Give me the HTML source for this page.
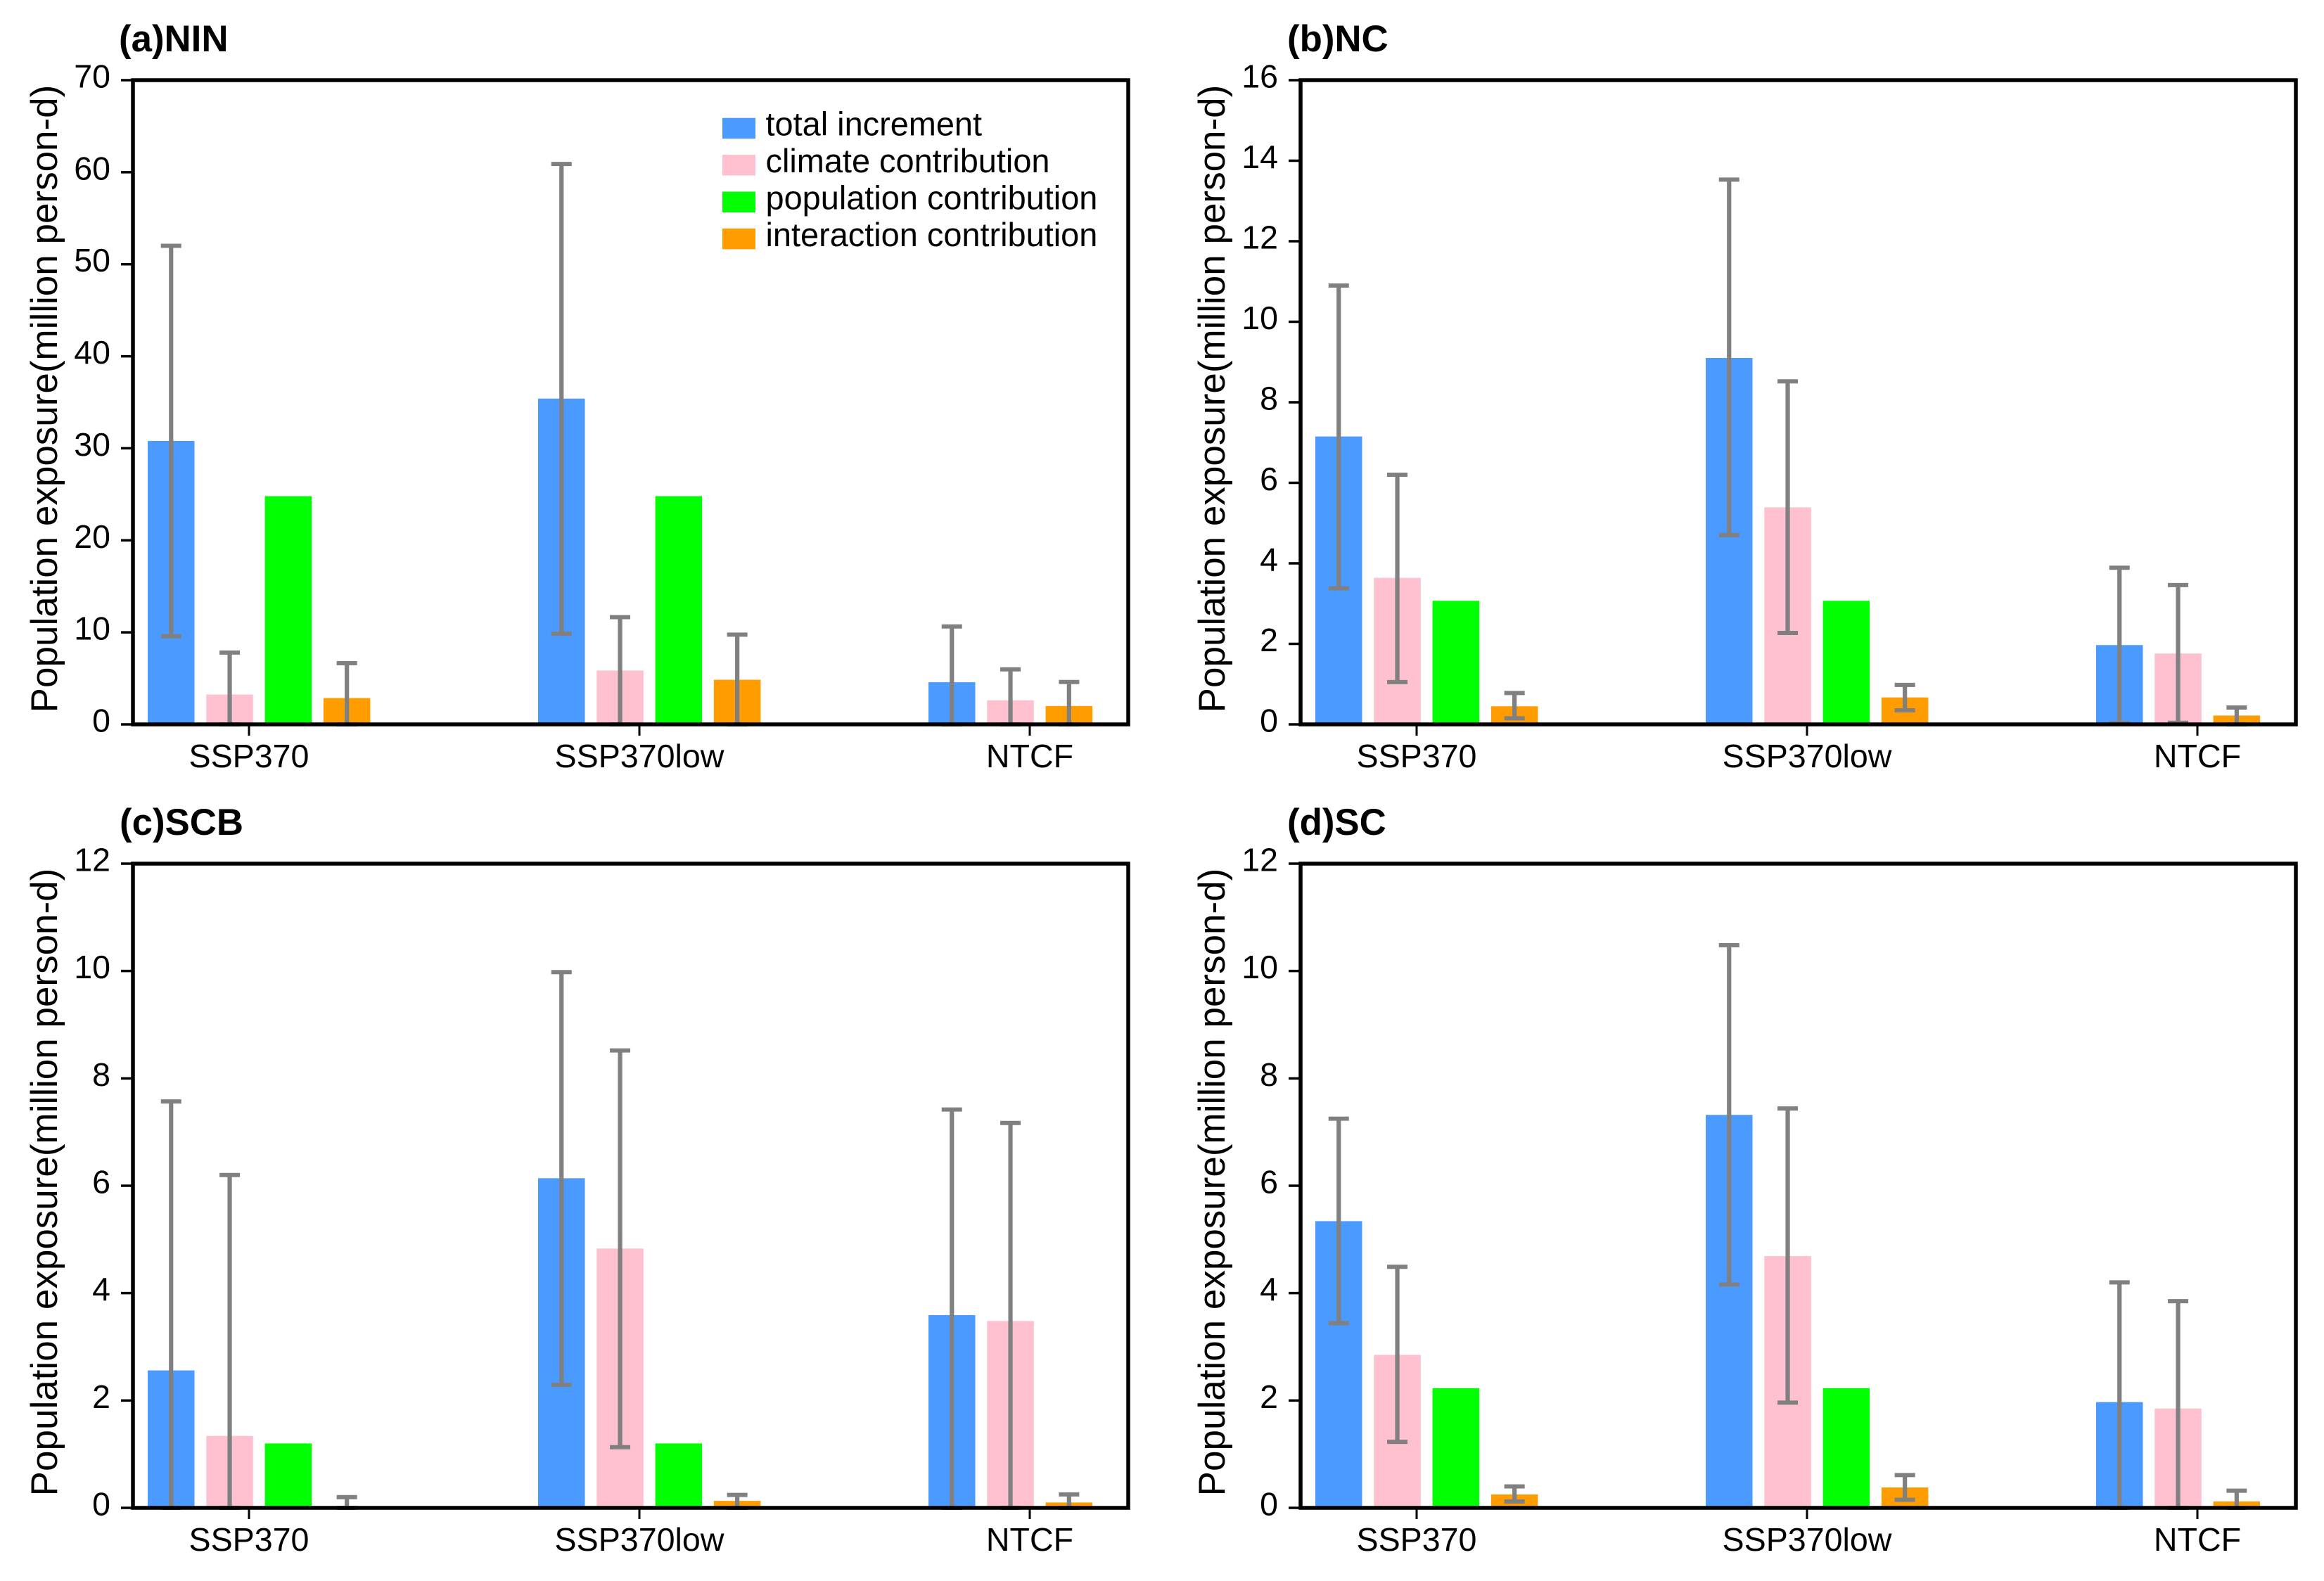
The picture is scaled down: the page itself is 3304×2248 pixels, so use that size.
<!DOCTYPE html>
<html lang="en">
<head>
<meta charset="utf-8">
<title>Population exposure contributions by region</title>
<style>
html,body{margin:0;padding:0;background:#fff;}
svg{display:block;font-family:"Liberation Sans",Arial,sans-serif;}
</style>
</head>
<body>
<svg id="chart" xmlns="http://www.w3.org/2000/svg" width="3304" height="2248" viewBox="0 0 3304 2248">
<rect x="0" y="0" width="3304" height="2248" fill="#ffffff"/>
</svg>
<script>
const categories = ['SSP370', 'SSP370low', 'NTCF'];
const seriesNames = ['total increment', 'climate contribution', 'population contribution', 'interaction contribution'];
const seriesKeys = ['total', 'climate', 'population', 'interaction'];
const seriesColors = ['#4a9aff', '#ffc0cf', '#00ff00', '#ff9d00'];
const yAxisTitle = 'Population exposure(million person-d)';

const titles = ['(a)NIN', '(b)NC', '(c)SCB', '(d)SC'];
const yMaxes = [70, 16, 12, 12];
const tickLabelsA = [0, 10, 20, 30, 40, 50, 60, 70];
const tickLabelsB = [0, 2, 4, 6, 8, 10, 12, 14, 16];
const tickLabelsC = [0, 2, 4, 6, 8, 10, 12];
const tickLabelsD = [0, 2, 4, 6, 8, 10, 12];

// Each series: one value per category; null means no bar.
const nlnTotal = [30.8, 35.4, 4.58];
const nlnTotalHigh = [52.0, 60.9, 10.64];
const nlnTotalLow = [9.58, 9.85, 0];
const nlnClimate = [3.25, 5.85, 2.62];
const nlnClimateHigh = [7.8, 11.65, 5.98];
const nlnClimateLow = [0, 0, 0];
const nlnPopulation = [24.8, 24.8, null];
const nlnInteraction = [2.86, 4.85, 2.0];
const nlnInteractionHigh = [6.65, 9.75, 4.6];
const nlnInteractionLow = [0, 0, 0];

const ncTotal = [7.15, 9.1, 1.97];
const ncTotalHigh = [10.9, 13.53, 3.89];
const ncTotalLow = [3.38, 4.7, 0.03];
const ncClimate = [3.64, 5.39, 1.76];
const ncClimateHigh = [6.2, 8.52, 3.46];
const ncClimateLow = [1.05, 2.27, 0.04];
const ncPopulation = [3.07, 3.07, null];
const ncInteraction = [0.45, 0.67, 0.22];
const ncInteractionHigh = [0.78, 0.98, 0.42];
const ncInteractionLow = [0.15, 0.35, 0];

const scbTotal = [2.56, 6.14, 3.59];
const scbTotalHigh = [7.57, 9.98, 7.42];
const scbTotalLow = [0, 2.29, 0];
const scbClimate = [1.34, 4.83, 3.48];
const scbClimateHigh = [6.2, 8.52, 7.17];
const scbClimateLow = [0, 1.13, 0];
const scbPopulation = [1.2, 1.2, null];
const scbInteraction = [0, 0.13, 0.1];
const scbInteractionHigh = [0.2, 0.24, 0.25];
const scbInteractionLow = [0, 0, 0];

const scTotal = [5.34, 7.32, 1.97];
const scTotalHigh = [7.25, 10.48, 4.2];
const scTotalLow = [3.44, 4.16, 0];
const scClimate = [2.85, 4.69, 1.85];
const scClimateHigh = [4.49, 7.44, 3.85];
const scClimateLow = [1.23, 1.96, 0];
const scPopulation = [2.23, 2.23, null];
const scInteraction = [0.25, 0.38, 0.12];
const scInteractionHigh = [0.4, 0.61, 0.32];
const scInteractionLow = [0.12, 0.15, 0];

const panelSeries = [
  [[nlnTotal, nlnTotalHigh, nlnTotalLow], [nlnClimate, nlnClimateHigh, nlnClimateLow], [nlnPopulation, null, null], [nlnInteraction, nlnInteractionHigh, nlnInteractionLow]],
  [[ncTotal, ncTotalHigh, ncTotalLow], [ncClimate, ncClimateHigh, ncClimateLow], [ncPopulation, null, null], [ncInteraction, ncInteractionHigh, ncInteractionLow]],
  [[scbTotal, scbTotalHigh, scbTotalLow], [scbClimate, scbClimateHigh, scbClimateLow], [scbPopulation, null, null], [scbInteraction, scbInteractionHigh, scbInteractionLow]],
  [[scTotal, scTotalHigh, scTotalLow], [scClimate, scClimateHigh, scClimateLow], [scPopulation, null, null], [scInteraction, scInteractionHigh, scInteractionLow]]
];
const panelTicks = [tickLabelsA, tickLabelsB, tickLabelsC, tickLabelsD];

const NS = 'http://www.w3.org/2000/svg';
const svg = document.getElementById('chart');

function make(tag, parent, attrs, text) {
  const el = document.createElementNS(NS, tag);
  for (const k in attrs) el.setAttribute(k, attrs[k]);
  if (text !== undefined) el.textContent = text;
  parent.appendChild(el);
  return el;
}

const plotLefts = [189, 1849, 189, 1849];
const plotTops = [114, 114, 1228, 1228];
const plotWidth = 1415;
const plotHeight = 916;
const titleLefts = [169, 1830, 170, 1830];
const titleBaselineOffset = -41;
const BAR_W = 66.5;
const SLOT = 83.3;
const GROUP = 555;
const GROUP_START = 21;
const TICK_OFFSET = 165;

function drawPanel(p) {
  const left = plotLefts[p], top = plotTops[p], bottom = top + plotHeight, right = left + plotWidth;
  const yMax = yMaxes[p];
  const yScale = function (v) { return bottom - (v / yMax) * plotHeight; };
  const slotX = function (c, slot) { return left + GROUP_START + GROUP * c + SLOT * slot; };

  const g = make('g', svg, {});
  
  

  const title = make('text', g, { x: titleLefts[p], y: top + titleBaselineOffset, 'font-size': 52.8, 'font-weight': 'bold', fill: '#000' }, titles[p]);
  
  

  const cx = left - 108, cy = top + plotHeight / 2 - 5;
  const yTitle = make('text', g, { x: 0, y: 0, 'font-size': 53, fill: '#000', 'text-anchor': 'middle', transform: 'translate(' + cx + ' ' + cy + ') rotate(-90)' }, yAxisTitle);
  
  

  // bars and error bars
  categories.forEach(function (cat, c) {
    let slot = 0;
    panelSeries[p].forEach(function (s, si) {
      const v = s[0][c];
      if (v === null) return;
      const x = slotX(c, slot);
      slot++;
      if (v > 0) {
        const bar = make('rect', g, { x: x, y: yScale(v), width: BAR_W, height: bottom - yScale(v), fill: seriesColors[si] });
        
        
      }
      if (s[1]) {
        const ex = x + BAR_W / 2;
        const hi = yScale(s[1][c]), lo = yScale(s[2][c]);
        const eg = make('g', g, { stroke: '#808080', fill: 'none' });
        
        
        make('line', eg, { x1: ex, x2: ex, y1: hi, y2: lo, 'stroke-width': 6.2 });
        make('line', eg, { x1: ex - 14.5, x2: ex + 14.5, y1: hi, y2: hi, 'stroke-width': 6 });
        make('line', eg, { x1: ex - 14.5, x2: ex + 14.5, y1: lo, y2: lo, 'stroke-width': 6 });
      }
    });
  });

  // frame
  const frame = make('rect', g, { x: left, y: top, width: right - left, height: bottom - top, fill: 'none', stroke: '#000', 'stroke-width': 5.5 });
  
  

  // y ticks
  panelTicks[p].forEach(function (t) {
    const y = yScale(t);
    const tick = make('line', g, { x1: left - 17, x2: left, y1: y, y2: y, stroke: '#000', 'stroke-width': 3.5 });
    
    
    const lab = make('text', g, { x: left - 32, y: y + 10.5, 'font-size': 46.5, 'text-anchor': 'end', fill: '#000' }, String(t));
    
    
  });

  // x ticks
  categories.forEach(function (cat, c) {
    const x = left + TICK_OFFSET + GROUP * c;
    const tick = make('line', g, { x1: x, x2: x, y1: bottom, y2: bottom + 16, stroke: '#000', 'stroke-width': 3 });
    
    
    const lab = make('text', g, { x: x, y: bottom + 61, 'font-size': 46.6, 'text-anchor': 'middle', fill: '#000' }, cat);
    
    
  });
}

[0, 1, 2, 3].forEach(drawPanel);

// legend (first panel)
const legend = make('g', svg, {});


seriesNames.forEach(function (name, i) {
  const y = 167.7 + 52.4 * i;
  const entry = make('g', legend, {});
  
  
  const sw = make('rect', entry, { x: 1027, y: y, width: 47, height: 29.5, fill: seriesColors[i] });
  
  
  const tx = make('text', entry, { x: 1088.5, y: y + 25, 'font-size': 46.9, fill: '#000' }, name);
  
  
});
</script>
</body>
</html>
